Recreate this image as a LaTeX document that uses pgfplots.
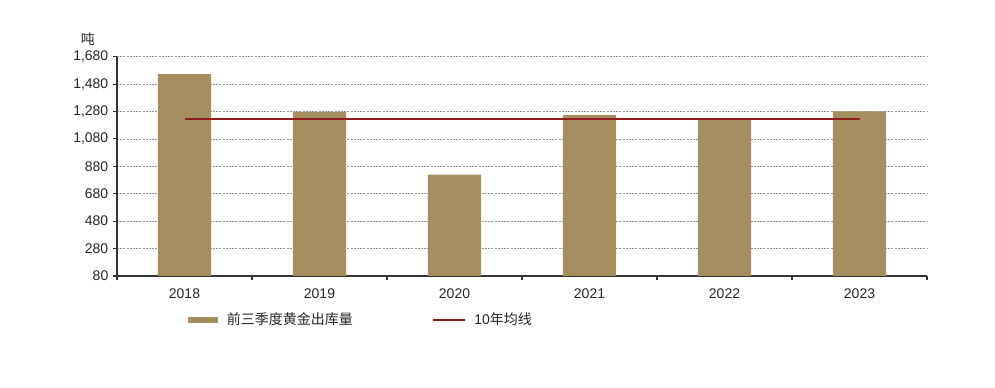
\documentclass[border=0pt]{standalone}
\usepackage{pgfplots}
\pgfplotsset{compat=1.18}
\usepackage{fontspec}
\setmainfont{Liberation Sans}
\newfontfamily\cjk{Noto Sans CJK SC}
\definecolor{barc}{HTML}{A68F5F}
\definecolor{linec}{HTML}{931C1F}
\definecolor{axc}{HTML}{333333}
\definecolor{txtc}{HTML}{262626}
\begin{document}
\begin{tikzpicture}
\useasboundingbox (0,0) rectangle (746.25pt,291pt);
\begin{axis}[
  at={(87.75pt,84pt)}, anchor=south west,
  scale only axis, width=607.5pt, height=164.5pt,
  xmin=-0.5, xmax=5.5, ymin=80, ymax=1680,
  ytick={80,280,...,1680},
  scaled y ticks=false,
  /pgf/number format/assume math mode=true,
  /pgf/number format/1000 sep={,},
  xtick={0,...,5}, xticklabels={2018,2019,2020,2021,2022,2023},
  minor xtick={-0.5,0.5,...,5.5},
  axis lines*=left,
  axis line style={axc, line width=0.9pt},
  tick align=outside,
  major tick length=3pt, minor tick length=3pt,
  tick style={axc, line width=0.8pt},
  major x tick style={draw=none},
  ticklabel style={font=\fontsize{10.5}{12}\selectfont, text=txtc},
  xticklabel style={yshift=-3pt},
  ymajorgrids,
  major grid style={gray!85, dash pattern=on 1.5pt off 0.9pt, line width=0.5pt},
  ylabel={\cjk 吨},
  ylabel style={rotate=-90, at={(axis description cs:-0.036,1.081)}, anchor=center, font=\fontsize{10.5}{12}\selectfont, text=txtc},
  legend columns=2,
  legend style={at={(axis description cs:0.0877,-0.2006)}, anchor=west, draw=none, fill=none, inner sep=0pt,
    font=\fontsize{10.5}{12}\selectfont, text=txtc,
    /tikz/every odd column/.append style={column sep=4.5pt},
    /tikz/every even column/.append style={column sep=57pt}},
  legend cell align=left,
]
\addplot[ybar, bar width=40pt, fill=barc, draw=none,
  legend image code/.code={\fill[barc] (0pt,-2.5pt) rectangle (22.5pt,2.5pt);}]
  coordinates {(0,1553) (1,1278) (2,819) (3,1253) (4,1222) (5,1280)};
\addlegendentry{\cjk 前三季度黄金出库量}
\addplot[linec, line width=1.5pt, sharp plot, mark=none,
  legend image code/.code={\draw[linec, line width=1.5pt] (0pt,0pt) -- (24pt,0pt);}]
  coordinates {(0,1225) (1,1225) (2,1225) (3,1225) (4,1225) (5,1225)};
\addlegendentry{10\cjk 年均线}
\end{axis}
\end{tikzpicture}
\end{document}
